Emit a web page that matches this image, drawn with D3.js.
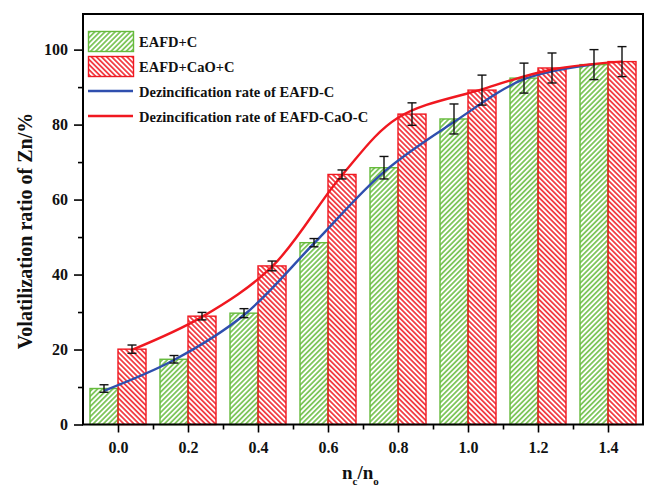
<!DOCTYPE html>
<html lang="en">
<head>
  <meta charset="UTF-8">
  <title>Volatilization ratio of Zn</title>
  <style>
    body { margin: 0; background: #fff; }
    text { font-family: 'Liberation Serif', 'Times New Roman', serif; font-weight: bold; }
  </style>
</head>
<body>
  <svg id="mainsvg" width="648" height="490"></svg>
  <script src="https://cdn.jsdelivr.net/npm/d3@7/dist/d3.min.js"></script>
  <script>
    // n_c / n_o
    const categories = [0.0, 0.2, 0.4, 0.6, 0.8, 1.0, 1.2, 1.4]
    const tickLabels = ['0.0', '0.2', '0.4', '0.6', '0.8', '1.0', '1.2', '1.4']
    // bars
    const eafdC = [9.6, 17.4, 29.7, 48.5, 68.5, 81.5, 92.4, 96.0]
    const eafdCaoC = [20.1, 28.9, 42.3, 66.7, 82.8, 89.2, 95.1, 96.8]
    const errC = [1.0, 1.0, 1.2, 1.1, 3.0, 4.0, 4.0, 4.0]
    const errCaoC = [1.1, 1.0, 1.3, 1.2, 3.0, 4.0, 4.0, 4.0]
    // fitted curves, points
    const rateCx = [-0.04, 0.16, 0.36, 0.56, 0.76, 0.96, 1.16, 1.36]
    const rateCy = [9.0, 17.2, 29.2, 48.3, 67.4, 80.7, 92.1, 96.1]
    const rateCaoCx = [0.04, 0.24, 0.44, 0.64, 0.80, 1.04, 1.24, 1.44]
    const rateCaoCy = [19.9, 28.7, 42.1, 66.5, 81.8, 89.4, 94.7, 96.8]
    const yTicks = [0, 20, 40, 60, 80, 100]
    const yMinor = [10, 30, 50, 70, 90]
    const xMinor = [0.1, 0.3, 0.5, 0.7, 0.9, 1.1, 1.3]

    const green = '#66bb3c'
    const red = '#f01820'
    const blue = '#2f4fae'

    const svg = d3.select('#mainsvg')
    const margin = { top: 14, right: 4, bottom: 65, left: 83 }

    const xScale = d3.scaleLinear().domain([-0.1, 1.5]).range([0, 560])
    const yScale = d3.scaleLinear().domain([0, 109.5]).range([410.5, 0])
    const barW = 0.08 // in n_c/n_o units

    const defs = svg.append('defs')
    function hatch(id, color, angle) {
      const p = defs.append('pattern')
        .attr('id', id)
        .attr('patternUnits', 'userSpaceOnUse')
        .attr('width', 3.6).attr('height', 3.6)
        .attr('patternTransform', `rotate(${angle})`)
      p.append('line')
        .attr('x1', 1.8).attr('y1', 0).attr('x2', 1.8).attr('y2', 3.6)
        .attr('stroke', color).attr('stroke-width', 1.5)
    }
    hatch('hatchGreen', green, 45)
    hatch('hatchRed', red, -45)

    const g = svg.append('g')
      .attr('transform', `translate(${margin.left}, ${margin.top})`)

    // bars
    const series = [
      { vals: eafdC, errs: errC, fill: 'url(#hatchGreen)', color: green, off: -barW },
      { vals: eafdCaoC, errs: errCaoC, fill: 'url(#hatchRed)', color: red, off: 0 }
    ]
    series.forEach(s => {
      g.append('g').selectAll('rect')
        .data(categories)
        .join('rect')
        .attr('x', (d, i) => xScale(d + s.off))
        .attr('y', (d, i) => yScale(s.vals[i]))
        .attr('width', xScale(barW) - xScale(0))
        .attr('height', (d, i) => yScale(0) - yScale(s.vals[i]))
        .attr('fill', s.fill)
        .attr('stroke', s.color)
        .attr('stroke-width', 1.4)
    })

    // curves
    const line = d3.line()
      .x(d => xScale(d[0]))
      .y(d => yScale(d[1]))
      .curve(d3.curveCatmullRom.alpha(0.5))
    g.append('path')
      .datum(rateCx.map((x, i) => [x, rateCy[i]]))
      .attr('d', line)
      .attr('fill', 'none').attr('stroke', blue).attr('stroke-width', 2.4)
    g.append('path')
      .datum(rateCaoCx.map((x, i) => [x, rateCaoCy[i]]))
      .attr('d', line)
      .attr('fill', 'none').attr('stroke', red).attr('stroke-width', 2.4)

    // error bars
    series.forEach(s => {
      const eg = g.append('g').attr('stroke', '#111').attr('stroke-width', 1.4)
      categories.forEach((c, i) => {
        const cx = xScale(c + s.off + barW / 2)
        const y1 = yScale(s.vals[i] + s.errs[i])
        const y2 = yScale(s.vals[i] - s.errs[i])
        eg.append('line').attr('x1', cx).attr('x2', cx).attr('y1', y1).attr('y2', y2)
        eg.append('line').attr('x1', cx - 4.5).attr('x2', cx + 4.5).attr('y1', y1).attr('y2', y1)
        eg.append('line').attr('x1', cx - 4.5).attr('x2', cx + 4.5).attr('y1', y2).attr('y2', y2)
      })
    })

    // axes
    const yAxis = d3.axisLeft(yScale).tickValues(yTicks).tickSize(9).tickPadding(6)
      .tickFormat(d3.format('d'))
    g.append('g').call(yAxis)
    g.append('g').call(d3.axisLeft(yScale).tickValues(yMinor).tickSize(5).tickFormat(''))

    const xAxis = d3.axisBottom(xScale).tickValues(categories).tickSize(8).tickPadding(9)
      .tickFormat((d, i) => tickLabels[i])
    g.append('g').attr('transform', `translate(0, ${yScale(0)})`).call(xAxis)
    g.append('g').attr('transform', `translate(0, ${yScale(0)})`)
      .call(d3.axisBottom(xScale).tickValues(xMinor).tickSize(5).tickFormat(''))

    g.selectAll('.domain').remove()
    g.selectAll('.tick line').attr('stroke', '#000').attr('stroke-width', 1.6)
    g.selectAll('.tick text')
      .attr('font-size', '16px')
      .attr('font-family', "'Liberation Serif', serif")
      .attr('font-weight', 'bold')
      .attr('fill', '#111')

    // frame
    g.append('rect')
      .attr('x', 0).attr('y', 0)
      .attr('width', xScale(1.5)).attr('height', yScale(0))
      .attr('fill', 'none').attr('stroke', '#000').attr('stroke-width', 2)

    // axis titles
    svg.append('text')
      .attr('transform', `translate(32, 231) rotate(-90)`)
      .attr('text-anchor', 'middle')
      .attr('font-size', '20px')
      .attr('fill', '#111')
      .text('Volatilization ratio of Zn/%')

    const xt = svg.append('text')
      .attr('x', 342).attr('y', 479)
      .attr('font-size', '19px')
      .attr('fill', '#111')
    xt.append('tspan').text('n')
    xt.append('tspan').attr('font-size', '11px').attr('dy', 6).text('c')
    xt.append('tspan').attr('dy', -6).text('/n')
    xt.append('tspan').attr('font-size', '11px').attr('dy', 6).text('o')

    // legend
    const legend = svg.append('g').attr('transform', 'translate(88, 31)')
    const items = [
      { label: 'EAFD+C', type: 'box', fill: 'url(#hatchGreen)', color: green },
      { label: 'EAFD+CaO+C', type: 'box', fill: 'url(#hatchRed)', color: red },
      { label: 'Dezincification rate of EAFD-C', type: 'line', color: blue },
      { label: 'Dezincification rate of EAFD-CaO-C', type: 'line', color: red }
    ]
    items.forEach((it, i) => {
      const row = legend.append('g').attr('transform', `translate(0, ${i * 25})`)
      if (it.type === 'box') {
        row.append('rect')
          .attr('x', 0.5).attr('y', 0.5).attr('width', 45).attr('height', 20)
          .attr('fill', it.fill).attr('stroke', it.color).attr('stroke-width', 1.4)
      } else {
        row.append('line')
          .attr('x1', 0).attr('x2', 45).attr('y1', 10).attr('y2', 10)
          .attr('stroke', it.color).attr('stroke-width', 2.4)
      }
      row.append('text')
        .attr('x', 51).attr('y', 16)
        .attr('font-size', '14.5px')
        .attr('fill', '#111')
        .text(it.label)
    })
  </script>
</body>
</html>
